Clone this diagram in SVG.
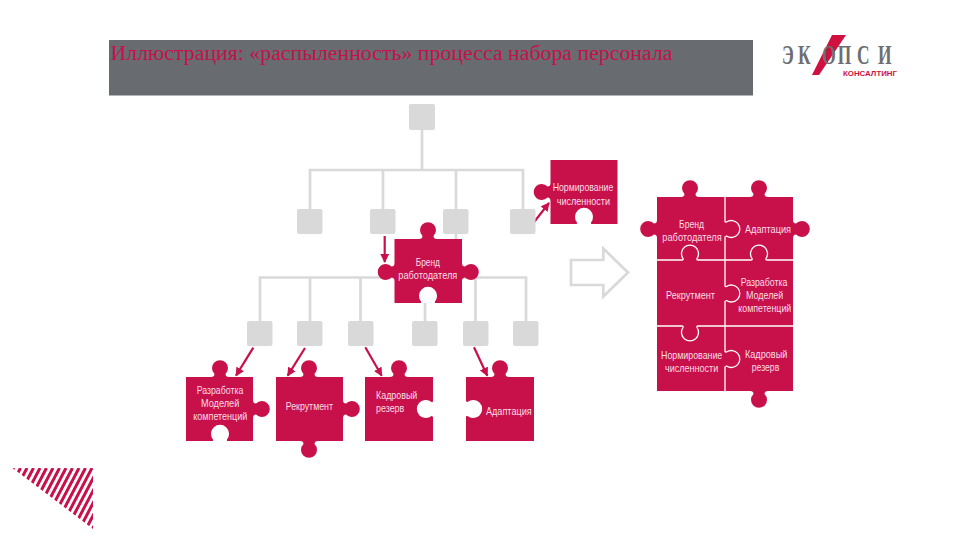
<svg xmlns="http://www.w3.org/2000/svg" width="960" height="540" viewBox="0 0 960 540">
<style>
.p{fill:#c8104a}
.s{fill:#d9d9d9}
.l{fill:none;stroke:#d9d9d9;stroke-width:2.7}
.w{fill:none;stroke:#fff;stroke-width:1.3}
.a{stroke:#c8104a;stroke-width:2.2;fill:none;marker-end:url(#h)}
.t{font-family:"Liberation Sans",Arial,sans-serif;font-size:10.5px;fill:#fbdde7}
.lg{font-family:"Liberation Serif","Times New Roman",serif;font-weight:700;font-size:28px;fill:#6d6e71}
</style>
<defs>
<marker id="h" viewBox="0 0 10 10" refX="9" refY="5" markerWidth="4" markerHeight="4" orient="auto" markerUnits="strokeWidth"><path d="M0,0L10,5L0,10z" fill="#c8104a"/></marker>
<clipPath id="c"><polygon points="12.5,468 93,468 93,529"/></clipPath>
</defs>
<rect id="header" x="109" y="40" width="644" height="55.5" fill="#686b70"/>
<text id="title" x="110.5" y="60" font-family="'Liberation Serif','Times New Roman',serif" font-size="20px" fill="#c8104a" textLength="562" lengthAdjust="spacingAndGlyphs">Иллюстрация: «распыленность» процесса набора персонала</text>
<g id="logo">
<polygon points="832,35 846,35 819,75 812,75" fill="#d0103f"/>
<text class="lg" transform="translate(782,64) scale(.62,1)" x="0 26 65 90 121 155" y="0">ЭКОПСИ</text>
<text x="843" y="76" font-family="'Liberation Sans',Arial,sans-serif" font-weight="700" font-size="6.5px" fill="#d0103f" textLength="54" lengthAdjust="spacingAndGlyphs">КОНСАЛТИНГ</text>
</g>
<g id="connectors">
<path class="l" d="M422,130V170M310,209V170H523V209M383,170V209M456,170V239M260,321V277.5H526V321M310,277V321M360.5,277V321M425,303V321M475.5,277V321"/>
<path class="a" d="M384.7,236V262"/>
<path class="a" d="M534.3,221.7L549,203"/>
<path class="a" d="M253.3,347.7L236,375.7"/>
<path class="a" d="M305,348L287.7,375.7"/>
<path class="a" d="M365.3,347.3L381.7,375.7"/>
<path class="a" d="M474,347.3L487.3,375.7"/>
<path class="l" d="M571,260H603.3V248.5L628,272.5L603.3,296.5V285H571Z" id="big-arrow"/>
</g>
<g id="tree-nodes">
<rect class="s" x="409" y="104" width="26" height="26" rx="2"/>
<rect class="s" x="297" y="209" width="25.5" height="25" rx="2"/>
<rect class="s" x="370" y="209" width="25.5" height="25" rx="2"/>
<rect class="s" x="443" y="209" width="25.5" height="25" rx="2"/>
<rect class="s" x="510" y="209" width="25.5" height="25" rx="2"/>
<rect class="s" x="247" y="321" width="25.5" height="25" rx="2"/>
<rect class="s" x="297" y="321" width="25.5" height="25" rx="2"/>
<rect class="s" x="348" y="321" width="25.5" height="25" rx="2"/>
<rect class="s" x="412" y="321" width="25.5" height="25" rx="2"/>
<rect class="s" x="463" y="321" width="25.5" height="25" rx="2"/>
<rect class="s" x="513" y="321" width="25.5" height="25" rx="2"/>
</g>
<g id="norm">
<path class="p" d="M550.5,160H617.5V224H592q-1.5,0 -1,-1.5a9,9 0 1 0 -14,0q.5,1.5 -1,1.5H550.5V201q0,-3.5 -3,-3.5a8,8 0 1 1 0,-11q3,0 3,-3.5Z"/>
<text class="t" x="552.7" y="191.3" textLength="60.6" lengthAdjust="spacingAndGlyphs">Нормирование</text>
<text class="t" x="556.7" y="205" textLength="53.3" lengthAdjust="spacingAndGlyphs">численности</text>
</g>
<g id="brand">
<path class="p" d="M394.5,239H419q3.5,0 3.5,-3a8,8 0 1 1 11,0q0,3 3.5,3H462V263q0,3.5 3,3.5a8,8 0 1 1 0,11q-3,0 -3,3.5V303H436q-1.5,0 -1,-1.5a9,9 0 1 0 -14,0q.5,1.5 -1,1.5H394.5V281q0,-3.5 -3,-3.5a8,8 0 1 1 0,-11q3,0 3,-3.5Z"/>
<text class="t" x="415.7" y="265.7" textLength="24.3" lengthAdjust="spacingAndGlyphs">Бренд</text>
<text class="t" x="398.3" y="278.5" textLength="59" lengthAdjust="spacingAndGlyphs">работодателя</text>
</g>
<g id="razrabotka">
<path class="p" d="M186,377H211q3.5,0 3.5,-3a8,8 0 1 1 11,0q0,3 3.5,3H253V400q0,3.5 3,3.5a8,8 0 1 1 0,11q-3,0 -3,3.5V441H228q-1.5,0 -1,-1.5a9,9 0 1 0 -14,0q.5,1.5 -1,1.5H186Z"/>
<text class="t" x="196.7" y="394" textLength="46.6" lengthAdjust="spacingAndGlyphs">Разработка</text>
<text class="t" x="201" y="407.3" textLength="38.3" lengthAdjust="spacingAndGlyphs">Моделей</text>
<text class="t" x="193.3" y="420" textLength="54" lengthAdjust="spacingAndGlyphs">компетенций</text>
</g>
<g id="rekrutment">
<path class="p" d="M276,377H300q3.5,0 3.5,-3a8,8 0 1 1 11,0q0,3 3.5,3H343V400q0,3.5 3,3.5a8,8 0 1 1 0,11q-3,0 -3,3.5V441H318q-3.5,0 -3.5,3a8,8 0 1 1 -11,0q0,-3 -3.5,-3H276Z"/>
<text class="t" x="285.7" y="410" textLength="47.3" lengthAdjust="spacingAndGlyphs">Рекрутмент</text>
</g>
<g id="kadrovy">
<path class="p" d="M365,377H390q3.5,0 3.5,-3a8,8 0 1 1 11,0q0,3 3.5,3H433V401q0,1.5 -1.5,1a9,9 0 1 0 0,14q1.5,.5 1.5,1V441H365Z"/>
<text class="t" x="376" y="399" textLength="41.3" lengthAdjust="spacingAndGlyphs">Кадровый</text>
<text class="t" x="376" y="412.3" textLength="28.3" lengthAdjust="spacingAndGlyphs">резерв</text>
</g>
<g id="adaptatsiya">
<path class="p" d="M466,377H491q3.5,0 3.5,-3a8,8 0 1 1 11,0q0,3 3.5,3H534V441H466V417q0,-1.5 1.5,-1a9,9 0 1 0 0,-14q-1.5,-.5 -1.5,-1Z"/>
<text class="t" x="486" y="415" textLength="45.7" lengthAdjust="spacingAndGlyphs">Адаптация</text>
</g>
<g id="assembled">
<path class="p" d="M657,197H681q3.5,0 3.5,-3a8,8 0 1 1 11,0q0,3 3.5,3H750q3.5,0 3.5,-3a8,8 0 1 1 11,0q0,3 3.5,3H793V220q0,3.5 3,3.5a8,8 0 1 1 0,11q-3,0 -3,3.5V391H768q-3.5,0 -3.5,3a8,8 0 1 1 -11,0q0,-3 -3.5,-3H657V238q0,-3.5 -3,-3.5a8,8 0 1 1 0,-11q3,0 3,-3.5Z"/>
<path class="w" d="M657,260H682q1.5,0 1,-1.5a8.5,8.5 0 1 1 14,0q-.5,1.5 1,1.5H751q1.5,0 1,-1.5a8.5,8.5 0 1 1 14,0q-.5,1.5 1,1.5H793"/>
<path class="w" d="M657,326H682q1.5,0 1,1.5a8.5,8.5 0 1 0 14,0q-.5,-1.5 1,-1.5H793"/>
<path class="w" d="M725,197V221q0,1.5 1.5,1a8.5,8.5 0 1 1 0,14q-1.5,.5 -1.5,1V285.5q0,1.5 1.5,1a8.5,8.5 0 1 1 0,14q-1.5,.5 -1.5,1V351q0,1.5 1.5,1a8.5,8.5 0 1 1 0,14q-1.5,.5 -1.5,1V391"/>
<text class="t" x="679" y="228" textLength="25" lengthAdjust="spacingAndGlyphs">Бренд</text>
<text class="t" x="662.3" y="240.7" textLength="59.4" lengthAdjust="spacingAndGlyphs">работодателя</text>
<text class="t" x="745" y="232.7" textLength="46" lengthAdjust="spacingAndGlyphs">Адаптация</text>
<text class="t" x="740.7" y="286" textLength="46.6" lengthAdjust="spacingAndGlyphs">Разработка</text>
<text class="t" x="746" y="299.3" textLength="37.3" lengthAdjust="spacingAndGlyphs">Моделей</text>
<text class="t" x="738.3" y="312.3" textLength="53" lengthAdjust="spacingAndGlyphs">компетенций</text>
<text class="t" x="666" y="299" textLength="49" lengthAdjust="spacingAndGlyphs">Рекрутмент</text>
<text class="t" x="661" y="359" textLength="61.3" lengthAdjust="spacingAndGlyphs">Нормирование</text>
<text class="t" x="665" y="371.7" textLength="53.3" lengthAdjust="spacingAndGlyphs">численности</text>
<text class="t" x="745" y="357.7" textLength="42.3" lengthAdjust="spacingAndGlyphs">Кадровый</text>
<text class="t" x="751.7" y="371" textLength="27.6" lengthAdjust="spacingAndGlyphs">резерв</text>
</g>
<g id="stripes" clip-path="url(#c)">
<path fill="none" stroke="#c8104a" stroke-width="3" d="M14,468l-32,61M20.5,468l-32,61M27,468l-32,61M33.5,468l-32,61M40,468l-32,61M46.5,468l-32,61M53,468l-32,61M59.5,468l-32,61M66,468l-32,61M72.5,468l-32,61M79,468l-32,61M85.5,468l-32,61M92,468l-32,61M98.5,468l-32,61M105,468l-32,61M111.5,468l-32,61M118,468l-32,61M124.5,468l-32,61"/>
</g>
</svg>
